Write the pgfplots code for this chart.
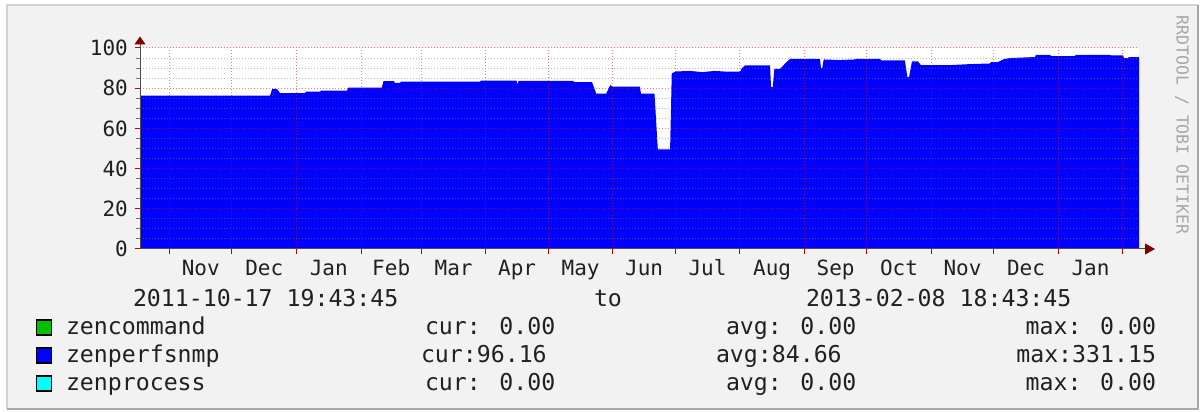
\documentclass[border=0pt]{standalone}
\usepackage{fontspec}
\usepackage{pgfplots}
\usepackage{pgfplotstable}
\pgfplotsset{compat=1.18}
\usetikzlibrary{arrows.meta}
\newfontfamily\lfont{DejaVu Sans Mono}
\newcommand\axisfont{\lfont\fontsize{21}{25}\selectfont}
\newcommand\legfont{\lfont\fontsize{23.2}{28}\selectfont}
\newcommand\wmfont{\lfont\fontsize{16.5}{20}\selectfont}
\definecolor{canvas}{HTML}{F2F2F2}
\definecolor{frameL}{HTML}{D2D2D2}
\definecolor{frameD}{HTML}{A8A8A8}
\definecolor{rrdblue}{HTML}{0000FF}
\definecolor{rrdgreen}{HTML}{00C000}
\definecolor{rrdcyan}{HTML}{00FFFF}
\definecolor{arrowred}{HTML}{800000}
\definecolor{txt}{HTML}{202020}

\pgfplotstableread{
x y
-14.18 76.3
48.3 76.3
49.3 79.6
51.6 79.6
53.1 77.6
65.1 77.6
65.6 78.3
72.3 78.3
72.8 78.8
85.3 78.8
85.8 80.3
102.0 80.3
102.8 83.5
107.8 83.5
108.3 82.6
110.7 82.6
111.2 83.3
149.2 83.3
149.7 83.8
166.7 83.8
167.2 81.8
167.7 83.6
193.9 83.6
194.4 83.0
203.0 83.0
205.0 77.3
209.8 77.3
211.0 80.0
211.8 81.5
212.8 80.8
226.0 80.8
226.5 77.3
233.0 77.3
234.6 49.6
240.5 49.6
241.3 87.3
243.0 88.3
250.0 88.6
256.0 88.0
262.0 88.6
268.0 88.2
274.1 88.2
275.0 90.0
276.5 91.3
288.5 91.3
289.0 80.5
289.8 80.5
290.6 89.6
293.3 89.6
296.0 92.5
298.1 94.6
312.5 94.6
313.0 90.0
313.6 90.0
314.3 94.3
322.0 94.0
329.3 94.3
330.0 94.6
341.3 94.6
342.0 93.8
353.3 93.8
354.5 85.5
355.3 85.5
356.7 93.3
359.6 93.3
361.0 91.5
375.0 91.5
385.0 92.0
394.2 92.3
394.7 93.0
398.0 93.0
401.0 94.5
403.8 95.0
415.8 95.5
416.3 96.6
423.0 96.6
423.5 96.0
435.0 96.0
435.5 96.6
451.8 96.6
452.3 96.3
458.1 96.3
458.6 95.0
460.5 95.0
461.0 95.5
465.78 95.5
}\datatable

\begin{document}
\begin{tikzpicture}[x=1pt,y=1pt]
\path[fill=white] (0,0) rectangle (1203,412);
\fill[canvas] (7,3) rectangle (1198,407);
\draw[frameL, line width=2.5pt] (7,3) -- (7,407) -- (1198,407);
\draw[frameD, line width=2.5pt] (7,3) -- (1198,3) -- (1198,407);

\begin{axis}[
  at={(140pt,163pt)}, anchor=south west,
  scale only axis, width=999pt, height=201pt,
  xmin=-14.18, xmax=465.78, ymin=0, ymax=100,
  axis background/.style={fill=white},
  axis on top,
  axis lines=left,
  axis line style={black!70, line width=1pt},
  x axis line style={-{Triangle[color=arrowred,length=10pt,width=11pt]}, shorten >=-16pt},
  y axis line style={-{Triangle[color=arrowred,length=8pt,width=11pt]}, shorten >=-11.5pt},
  xtick={0,30,61,92,121,152,182,213,243,274,305,335,366,396,427,458},
  xticklabels={},
  extra x ticks={15,45.5,76.5,106.5,136.5,167,197.5,228,258.5,289.5,320,350.5,381,411.5,442.5},
  extra x tick labels={Nov,Dec,Jan,Feb,Mar,Apr,May,Jun,Jul,Aug,Sep,Oct,Nov,Dec,Jan},
  extra x tick style={grid=none, major tick style={draw=none}},
  ytick={0,20,40,60,80,100},
  minor y tick num=3,
  grid=both,
  major grid style={draw=red, opacity=0.5, line width=1pt, dash pattern=on 1pt off 2pt},
  minor grid style={draw=black!50, opacity=0.55, line width=1pt, dash pattern=on 1pt off 2pt},
  tick align=outside,
  major tick length=5pt, minor tick length=4pt,
  major tick style={red!75!black, line width=1pt},
  minor tick style={black!55, line width=1pt},
  /pgf/number format/assume math mode=true,
  tick label style={font=\axisfont, text=txt, inner sep=0pt},
  yticklabel style={anchor=east, xshift=-7pt},
  xticklabel style={anchor=north, yshift=-6pt, text height=15.3pt, text depth=4pt},
]
\addplot[fill=rrdblue, draw=none] table[x=x, y=y] {\datatable} \closedcycle;
\end{axis}

\node[rotate=-90, text=black!35, inner sep=0pt, font=\wmfont] at (1182,287) {RRDTOOL / TOBI OETIKER};

\begin{scope}[every node/.style={inner sep=0pt, outer sep=0pt, text=txt, font=\legfont}]
\node[anchor=base west] at (133,105) {2011-10-17 19:43:45};
\node[anchor=base west] at (594,105) {to};
\node[anchor=base west] at (806,105) {2013-02-08 18:43:45};

\filldraw[fill=rrdgreen, draw=black, line width=1.2pt] (36.5,77) rectangle (51.5,92);
\filldraw[fill=rrdblue, draw=black, line width=1.2pt] (36.5,49) rectangle (51.5,64);
\filldraw[fill=rrdcyan, draw=black, line width=1.2pt] (36.5,21) rectangle (51.5,36);

\node[anchor=base west] at (66,77) {zencommand};
\node[anchor=base west] at (66,49) {zenperfsnmp};
\node[anchor=base west] at (66,21) {zenprocess};

\node[anchor=base west] at (425,77) {cur: 0.00};
\node[anchor=base west] at (421,49) {cur:96.16};
\node[anchor=base west] at (425,21) {cur: 0.00};

\node[anchor=base west] at (726,77) {avg: 0.00};
\node[anchor=base west] at (716,49) {avg:84.66};
\node[anchor=base west] at (726,21) {avg: 0.00};

\node[anchor=base east] at (1156,77) {max: 0.00};
\node[anchor=base east] at (1156,49) {max:331.15};
\node[anchor=base east] at (1156,21) {max: 0.00};
\end{scope}
\end{tikzpicture}
\end{document}
